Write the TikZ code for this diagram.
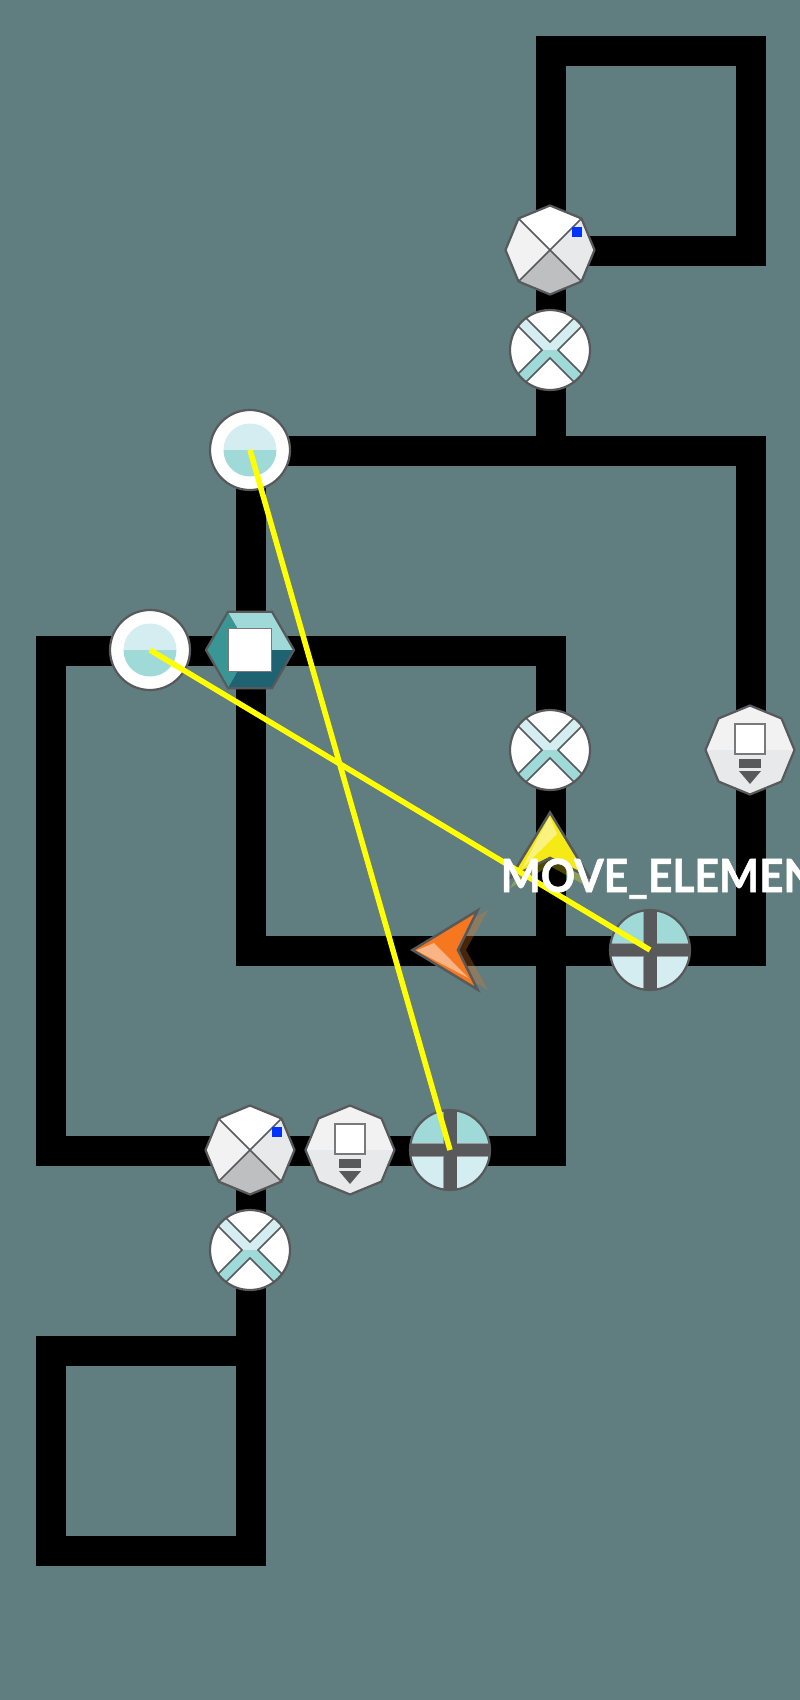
\documentclass[tikz,border=0pt]{standalone}
\usepackage{fontspec}
\newfontfamily\labelfont[BoldFeatures={FakeBold=1.3}]{Lato}

\definecolor{bgteal}{HTML}{607D80}
\definecolor{rimgray}{HTML}{58595B}
\definecolor{paleaqua}{HTML}{D4EDF1}
\definecolor{midaqua}{HTML}{9FDAD9}
\definecolor{deepaqua}{HTML}{3A9595}
\definecolor{darkaqua}{HTML}{1F6373}
\definecolor{faceleft}{HTML}{F2F2F3}
\definecolor{faceright}{HTML}{E8E9EB}
\definecolor{facelow}{HTML}{BEBFC1}
\definecolor{headorange}{HTML}{F57821}
\definecolor{headyellow}{HTML}{F5E916}
\definecolor{markblue}{HTML}{0033FF}
\definecolor{routeyellow}{RGB}{255,255,0}

\tikzset{
  track/.style={line width=3mm,black,line cap=rect,line join=miter},
  rim/.style={draw=rimgray,line width=0.22mm},
  seam/.style={draw=rimgray,line width=0.16mm},
  route/.style={line width=0.55mm,routeyellow},
  % the octagon outline, point on top
  pics/octo/.style={code={
    \path[pic actions] (0,-0.445) -- (0.315,-0.315) -- (0.445,0) -- (0.315,0.315)
       -- (0,0.445) -- (-0.315,0.315) -- (-0.445,0) -- (-0.315,-0.315) -- cycle;
  }},
  pics/xswitch/.style={code={
    \fill[white] (0,-0.445) -- (0.315,-0.315) -- (0,0) -- (-0.315,-0.315) -- cycle;
    \fill[faceright] (0.315,-0.315) -- (0.445,0) -- (0.315,0.315) -- (0,0) -- cycle;
    \fill[facelow] (0.315,0.315) -- (0,0.445) -- (-0.315,0.315) -- (0,0) -- cycle;
    \fill[faceleft] (-0.315,0.315) -- (-0.445,0) -- (-0.315,-0.315) -- (0,0) -- cycle;
    \draw[seam] (-0.315,-0.315) -- (0.315,0.315);
    \draw[seam] (0.315,-0.315) -- (-0.315,0.315);
    \pic[rim] {octo};
    \fill[markblue] (0.22,-0.23) rectangle (0.32,-0.13); % small mark
  }},
  pics/xcircle/.style={code={
    \fill[white] (0,0) circle(0.4);
    \begin{scope}
      \clip (0,0) circle(0.4);
      \fill[paleaqua] (-0.4,-0.4) -- (-0.32,-0.4) -- (0,-0.08) -- (0.32,-0.4) -- (0.4,-0.4)
         -- (0.4,-0.32) -- (0.08,0) -- (-0.08,0) -- (-0.4,-0.32) -- cycle;
      \fill[midaqua] (-0.4,0.4) -- (-0.32,0.4) -- (0,0.08) -- (0.32,0.4) -- (0.4,0.4)
         -- (0.4,0.32) -- (0.08,0) -- (-0.08,0) -- (-0.4,0.32) -- cycle;
      \draw[seam] (-0.32,-0.4) -- (0,-0.08) -- (0.32,-0.4);
      \draw[seam] (-0.32,0.4) -- (0,0.08) -- (0.32,0.4);
      \draw[seam] (-0.4,-0.32) -- (-0.08,0) -- (-0.4,0.32);
      \draw[seam] (0.4,-0.32) -- (0.08,0) -- (0.4,0.32);
    \end{scope}
    \draw[rim] (0,0) circle(0.4);
  }},
  pics/plusdisc/.style={code={
    \begin{scope}
      \clip (0,0) circle(0.4);
      \fill[midaqua] (-0.4,-0.4) rectangle (0.4,0);
      \fill[paleaqua] (-0.4,0) rectangle (0.4,0.4);
      \draw[fill=rimgray,draw=rimgray!60,line width=0.1mm] (-0.065,-0.4) rectangle (0.065,0.4);
      \draw[fill=rimgray,draw=rimgray!60,line width=0.1mm] (-0.4,-0.065) rectangle (0.4,0.065);
      \fill[rimgray] (-0.065,-0.4) rectangle (0.065,0.4);
    \end{scope}
    \draw[rim] (0,0) circle(0.4);
  }},
  pics/halfdisc/.style={code={
    \draw[rim,fill=white] (0,0) circle(0.4);
    \fill[paleaqua] (-0.265,0) arc(180:360:0.265);
    \fill[midaqua] (-0.265,0) arc(180:0:0.265);
  }},
  pics/hexblock/.style={code={
    \fill[deepaqua] (-0.44,0) -- (-0.22,-0.383) -- (0,0) -- (-0.22,0.383) -- cycle;
    \fill[midaqua] (-0.22,-0.383) -- (0.22,-0.383) -- (0.44,0) -- (0,0) -- cycle;
    \fill[darkaqua] (0.44,0) -- (0.22,0.383) -- (-0.22,0.383) -- (0,0) -- cycle;
    \draw[rim] (-0.44,0) -- (-0.22,-0.383) -- (0.22,-0.383) -- (0.44,0)
       -- (0.22,0.383) -- (-0.22,0.383) -- cycle;
    \draw[draw=rimgray!80,line width=0.16mm,fill=white] (-0.215,-0.215) rectangle (0.215,0.215);
  }},
  pics/signalbox/.style={code={
    \pic[fill=faceleft] {octo};
    \begin{scope}
      \clip (-0.5,0) rectangle (0.5,0.5);
      \pic[fill=faceright] {octo};
    \end{scope}
    \pic[rim] {octo};
    \draw[draw=rimgray!80,line width=0.16mm,fill=white] (-0.15,-0.26) rectangle (0.15,0.04);
    \fill[rimgray] (-0.11,0.09) rectangle (0.11,0.18);
    \fill[rimgray] (-0.11,0.21) -- (0.11,0.21) -- (0,0.34) -- cycle;
  }},
  % arrow head, tip up; its colour is the argument
  pics/trainhead/.style={code={
    \fill[#1,opacity=0.3] (0,-0.3) -- (0.4,0.38) -- (0,0.16) -- (-0.4,0.38) -- cycle;
    \draw[rimgray,line width=0.25mm,fill=#1,line join=miter]
       (0,-0.375) -- (0.395,0.275) -- (0,0.08) -- (-0.395,0.275) -- cycle;
    \fill[white,opacity=0.45] (-0.005,-0.335) -- (0.07,-0.16) -- (-0.28,0.185) -- cycle;
  }}
}

\begin{document}
\begin{tikzpicture}[y=-1cm]
 \fill[bgteal] (0,0) rectangle (8,17);
 \useasboundingbox (0,0) rectangle (8,17);

 % gates
 \coordinate (gateb) at (5.5,2.5);
 \coordinate (gatec) at (5.5,3.5);
 \coordinate (gated) at (2.5,4.5);
 \coordinate (gatee) at (2.5,6.5);
 \coordinate (gatef) at (1.5,6.5);
 \coordinate (gateg) at (5.5,7.5);
 \coordinate (gateh) at (7.5,7.5);
 \coordinate (gatei) at (6.5,9.5);
 \coordinate (gatej) at (2.5,11.5);
 \coordinate (gatek) at (3.5,11.5);
 \coordinate (gatel) at (4.5,11.5);
 \coordinate (gatem) at (2.5,12.5);

 % track corners, all a little off the gate centres
 \begin{scope}[shift={(0.01,0.01)}]
   \coordinate (topleft) at (5.5,0.5);
   \coordinate (topright) at (7.5,0.5);
   \coordinate (midright) at (7.5,2.5);
   \coordinate (midjoin) at (5.5,2.5);
   \coordinate (upjoin) at (5.5,4.5);
   \coordinate (upleft) at (2.5,4.5);
   \coordinate (upright) at (7.5,4.5);
   \coordinate (lowright) at (7.5,9.5);
   \coordinate (lowleft) at (2.5,9.5);
   \coordinate (farleft) at (0.5,6.5);
   \coordinate (farright) at (5.5,6.5);
   \coordinate (baseright) at (5.5,11.5);
   \coordinate (baseleft) at (0.5,11.5);
   \coordinate (basejoin) at (2.5,11.5);
   \coordinate (loopright) at (2.5,13.5);
   \coordinate (loopleft) at (0.5,13.5);
   \coordinate (endleft) at (0.5,15.5);
   \coordinate (endright) at (2.5,15.5);
 \end{scope}

 % Draw the tracks
 \draw[track] (upjoin) -- (topleft) -- (topright) -- (midright) -- (midjoin);
 \draw[track] (upleft) -- (upright) -- (lowright) -- (lowleft) -- cycle;
 \draw[track] (farleft) -- (farright) -- (baseright) -- (baseleft) -- cycle;
 \draw[track] (basejoin) -- (endright) -- (endleft) -- (loopleft) -- (loopright);

 % Draw the gates
 \pic at (gateb) {xswitch};
 \pic at (gatec) {xcircle};
 \pic at (gated) {halfdisc};
 \pic at (gatef) {halfdisc};
 \pic at (gatee) {hexblock};
 \pic at (gateg) {xcircle};
 \pic at (gateh) {signalbox};
 \pic at (gatei) {plusdisc};
 \pic at (gatej) {xswitch};
 \pic at (gatek) {signalbox};
 \pic at (gatel) {plusdisc};
 \pic at (gatem) {xcircle};

 % Draw the arrow heads
 \pic at (5.5,8.5) {trainhead=headyellow};
 \pic[rotate=90] at (4.5,9.5) {trainhead=headorange};

 % Routes and label
 \draw[route] (gated) -- (gatel);
 \draw[route] (gatef) -- (gatei);
 \node[anchor=base west,inner sep=0pt,text=white,font=\labelfont\bfseries\fontsize{13pt}{14pt}\selectfont] (movelabel) at (5.0,8.92) {\scalebox{0.93}[1]{MOVE\_ELEMEN}};
\end{tikzpicture}
\end{document}
